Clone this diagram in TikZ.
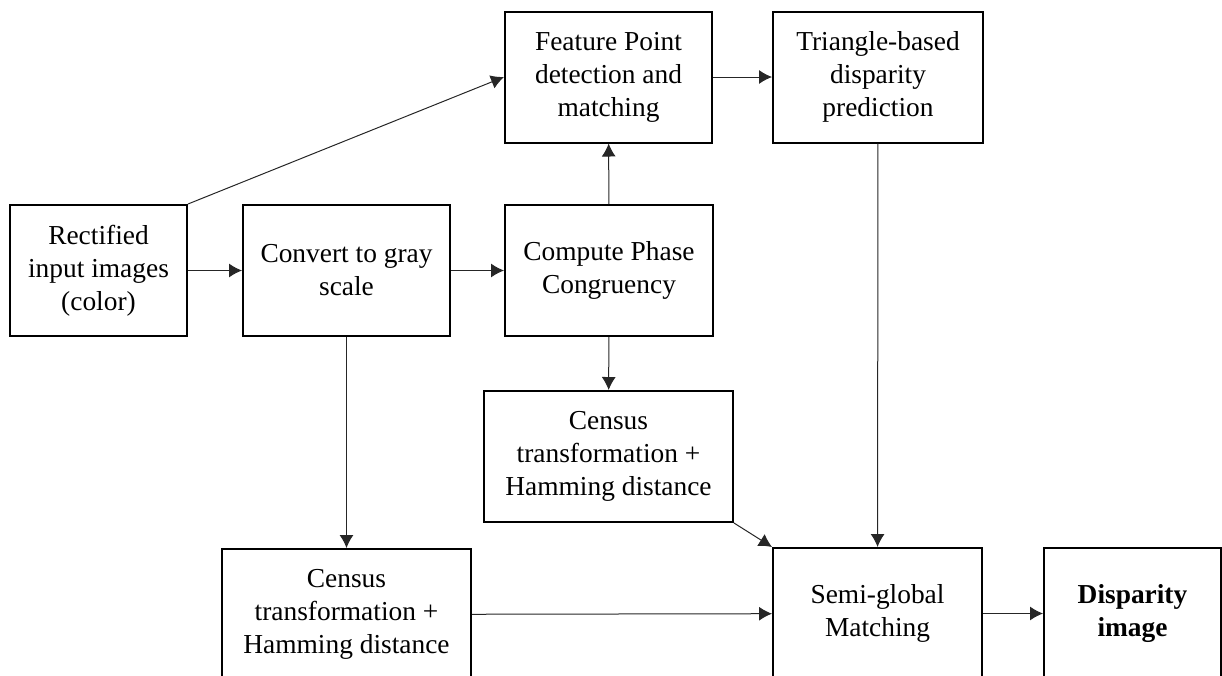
\documentclass[tikz,border=0pt]{standalone}
\usepackage{fontspec}
\setmainfont{Liberation Serif}
\usetikzlibrary{arrows.meta}

\tikzset{
    blk/.style={draw, line width=2pt, minimum height=\boxh, inner sep=0pt, align=center,
        font=\fontsize{27.4}{33}\selectfont},
    arr/.style={draw=black!85, line width=1pt, -{Latex[length=13pt,width=14pt]}}
}

\begin{document}
\begin{tikzpicture}[x=1pt, y=-1pt]

    % constants
    \def\boxh{131pt}

    \useasboundingbox (0,0) rectangle (1222,675);

    % top row
    \node[blk, minimum width=207pt] (feat) at (608.5,77) {Feature Point\\detection and\\matching};
    \node[blk, minimum width=210pt] (tri) at (878,77) {Triangle-based\\disparity\\prediction};

    % middle row
    \node[blk, minimum width=177pt] (rect) at (98.5,270.5) {Rectified\\input images\\(color)};
    \node[blk, minimum width=207pt] (gray) at (346.5,270.5) {Convert to gray\\scale};
    \node[blk, minimum width=208pt] (phase) at (609,270.5) {Compute Phase\\Congruency};

    \node[blk, minimum width=249pt] (censA) at (608.5,456.5) {Census\\transformation +\\Hamming distance};

    % bottom row
    \node[blk, minimum width=249pt] (censB) at (346.5,614.5) {Census\\transformation +\\Hamming distance};
    \node[blk, minimum width=209pt] (sgm) at (877.5,613.5) {Semi-global\\Matching};
    \node[blk, minimum width=177pt] (disp) at (1132.5,613.5) {\textbf{Disparity}\\\textbf{image}};

    % connections
    \draw[arr] (rect.north east) -- (feat.west);
    \draw[arr] (rect) -- (gray);
    \draw[arr] (gray) -- (phase);
    \draw[arr] (phase) -- (feat);
    \draw[arr] (feat) -- (tri);
    \draw[arr] (phase) -- (censA);
    \draw[arr] (gray) -- (censB);
    \draw[arr] (tri) -- (sgm);
    \draw[arr] (censA.south east) -- (sgm.north west);
    \draw[arr] (censB) -- (sgm);
    \draw[arr] (sgm) -- (disp);

\end{tikzpicture}
\end{document}
